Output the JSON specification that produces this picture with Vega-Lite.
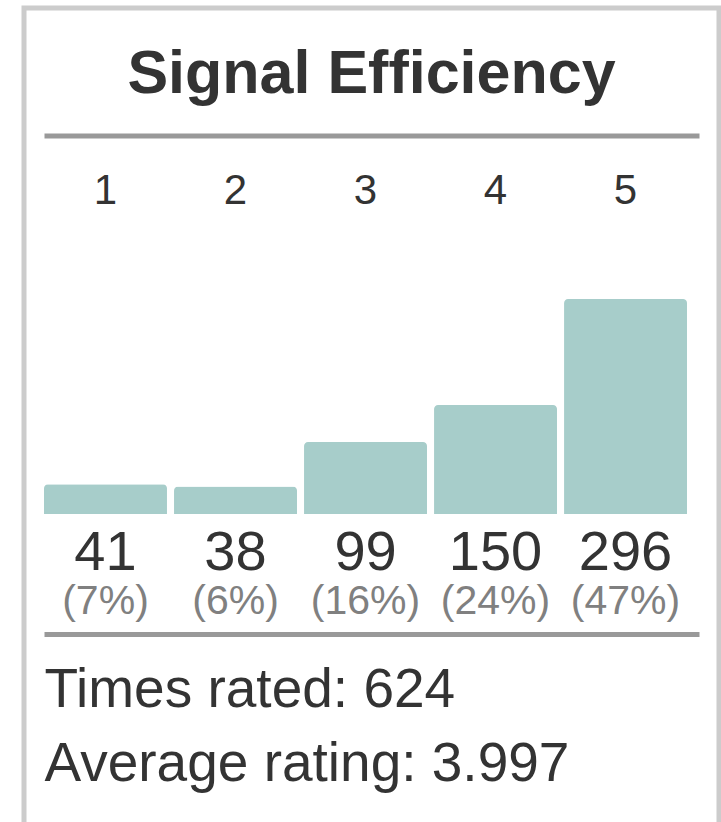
{
  "$schema": "https://vega.github.io/schema/vega-lite/v6.json",
  "autosize": "none",
  "padding": {"left": 24, "top": 8, "right": 2, "bottom": 0},
  "width": 695,
  "height": 830,
  "background": "white",
  "config": {
    "font": "Liberation Sans",
    "view": {"stroke": "#cccccc", "strokeWidth": 5}
  },
  "title": {
    "text": "Signal Efficiency",
    "fontSize": 61,
    "fontWeight": "bold",
    "color": "#333333",
    "anchor": "middle",
    "frame": "group",
    "offset": -98
  },
  "data": {
    "values": [
      {"rating": "1", "count": 41, "share": "(7%)"},
      {"rating": "2", "count": 38, "share": "(6%)"},
      {"rating": "3", "count": 99, "share": "(16%)"},
      {"rating": "4", "count": 150, "share": "(24%)"},
      {"rating": "5", "count": 296, "share": "(47%)"}
    ]
  },
  "layer": [
    {
      "mark": {"type": "bar", "color": "#a7cdca", "cornerRadiusTopLeft": 4, "cornerRadiusTopRight": 4},
      "encoding": {
        "x": {
          "field": "rating", "type": "nominal", "sort": null,
          "scale": {"range": [20, 675], "paddingInner": 0.054, "paddingOuter": 0.046, "align": 0},
          "axis": {
            "orient": "top", "offset": -127.5, "title": null,
            "domainColor": "#999999", "domainWidth": 5,
            "ticks": false, "tickSize": 0, "grid": false,
            "labelAngle": 0, "labelFontSize": 42, "labelColor": "#333333",
            "labelBaseline": "alphabetic", "labelPadding": -67.5
          }
        },
        "y": {
          "field": "count", "type": "quantitative",
          "scale": {"domain": [0, 296], "range": [506, 291], "nice": false, "zero": true},
          "axis": null
        }
      }
    },
    {
      "mark": {"type": "text", "fontSize": 56, "color": "#333333", "align": "center", "baseline": "alphabetic", "dy": 56},
      "encoding": {
        "x": {
          "field": "rating", "type": "nominal", "sort": null,
          "axis": {
            "orient": "bottom", "offset": -204,
            "domainColor": "#999999", "domainWidth": 5,
            "ticks": false, "tickSize": 0, "labels": false, "grid": false,
            "title": ["Times rated: 624", "Average rating: 3.997"],
            "titleFontSize": 55, "titleFontWeight": "normal", "titleColor": "#333333",
            "titleAnchor": "start", "titleAlign": "left", "titleBaseline": "alphabetic",
            "titleLineHeight": 74, "titleX": 20, "titleY": 72
          }
        },
        "y": {"datum": 0, "type": "quantitative", "axis": null},
        "text": {"field": "count", "type": "quantitative"}
      }
    },
    {
      "mark": {"type": "text", "fontSize": 41, "color": "#808080", "align": "center", "baseline": "alphabetic", "dy": 99.5},
      "encoding": {
        "x": {"field": "rating", "type": "nominal", "sort": null, "axis": null},
        "y": {"datum": 0, "type": "quantitative", "axis": null},
        "text": {"field": "share", "type": "nominal"}
      }
    }
  ],
  "resolve": {"axis": {"x": "independent"}}
}
